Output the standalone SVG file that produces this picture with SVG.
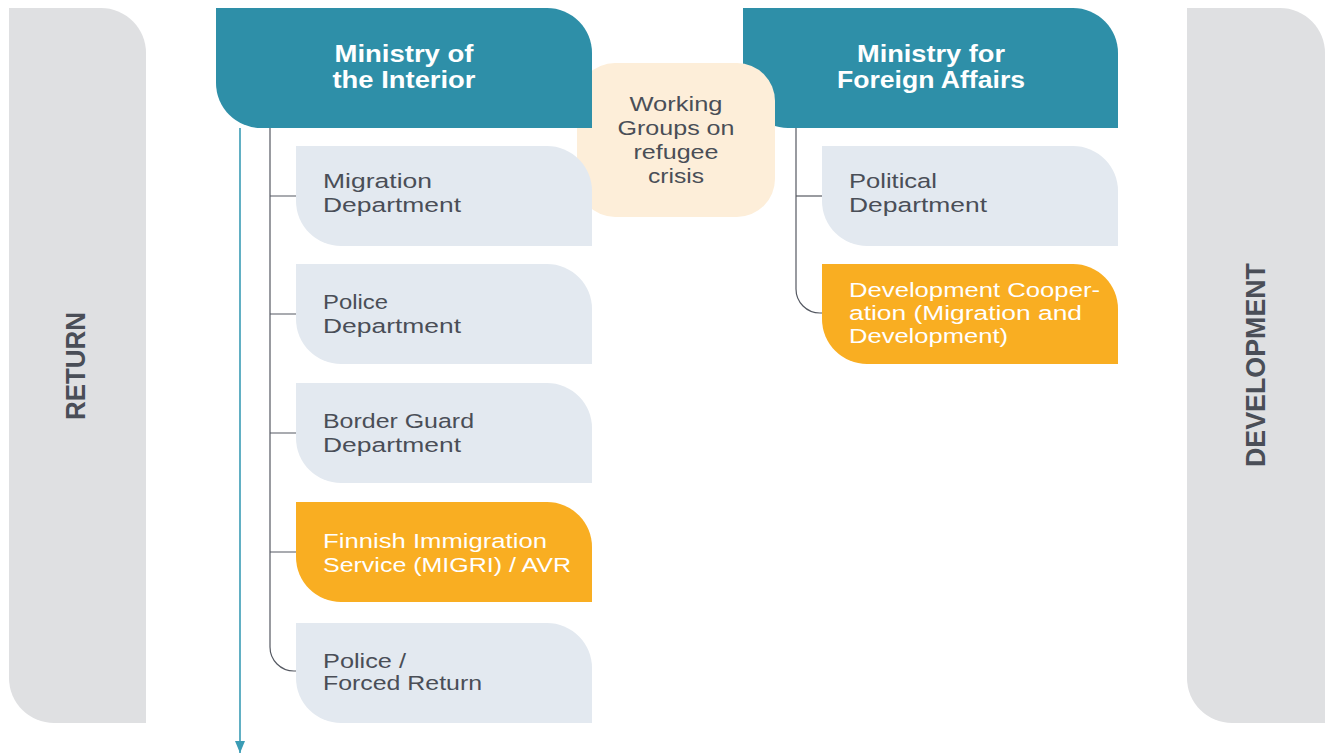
<svg xmlns="http://www.w3.org/2000/svg" width="1325" height="753" viewBox="0 0 1325 753">
<style>
  text { font-family: "Liberation Sans", Arial, sans-serif; }
  .panel { fill: #dfe0e2; }
  .ministry { fill: #2e8fa8; }
  .dept { fill: #e3e9f0; }
  .hl { fill: #f9ae22; }
  .wg { fill: #fdeed9; }
  .head { font-size: 23px; font-weight: 700; fill: #ffffff; text-anchor: middle; }
  .lbl { font-size: 20.5px; fill: #4a4e57; }
  .lblw { font-size: 20px; fill: #ffffff; }
  .side { font-size: 27px; font-weight: 700; fill: #4a4e57; text-anchor: middle; }
  .tree { fill: none; stroke: #555962; stroke-width: 1.2; }
  .flow { fill: none; stroke: #3a9cb5; stroke-width: 1.6; }
</style>
<defs>
  <marker id="arr" viewBox="0 0 12 10" refX="12" refY="5" markerWidth="12" markerHeight="10" markerUnits="userSpaceOnUse" orient="auto">
    <path d="M0,0 L12,5 L0,10 Z" fill="#3a9cb5"/>
  </marker>
</defs>

<g id="panel-return">
  <path class="panel" d="M9,8 H101 A45,45 0 0 1 146,53 V723 H54 A45,45 0 0 1 9,678 Z"/>
  <text class="side" transform="translate(85,366) rotate(-90)" textLength="108" lengthAdjust="spacingAndGlyphs">RETURN</text>
</g>
<g id="panel-development">
  <path class="panel" d="M1187,8 H1280 A45,45 0 0 1 1325,53 V723 H1232 A45,45 0 0 1 1187,678 Z"/>
  <text class="side" transform="translate(1265,365) rotate(-90)" textLength="204" lengthAdjust="spacingAndGlyphs">DEVELOPMENT</text>
</g>

<g id="connectors">
  <path class="flow" d="M240,128 V753" marker-end="url(#arr)"/>
  <path class="tree" d="M270,128 V647 A24,24 0 0 0 294,671 H297"/>
  <path class="tree" d="M270,196 H297 M270,314 H297 M270,433 H297 M270,552 H297"/>
  <path class="tree" d="M796,128 V289 A24,24 0 0 0 820,313 H823"/>
  <path class="tree" d="M796,196 H823"/>
</g>

<g id="ministry-foreign">
  <path class="ministry" d="M743,8 H1073 A45,45 0 0 1 1118,53 V128 H788 A45,45 0 0 1 743,83 Z"/>
  <text class="head"><tspan x="931" y="62" textLength="148" lengthAdjust="spacingAndGlyphs">Ministry for</tspan><tspan x="931" y="88" textLength="188" lengthAdjust="spacingAndGlyphs">Foreign Affairs</tspan></text>
</g>

<g id="working-groups">
  <rect class="wg" x="577" y="63" width="198" height="154" rx="38" ry="38"/>
  <text class="lbl" text-anchor="middle"><tspan x="676" y="111" textLength="93" lengthAdjust="spacingAndGlyphs">Working</tspan><tspan x="676" y="135" textLength="117" lengthAdjust="spacingAndGlyphs">Groups on</tspan><tspan x="676" y="159" textLength="85" lengthAdjust="spacingAndGlyphs">refugee</tspan><tspan x="676" y="183" textLength="56" lengthAdjust="spacingAndGlyphs">crisis</tspan></text>
</g>

<g id="ministry-interior">
  <path class="ministry" d="M216,8 H547 A45,45 0 0 1 592,53 V128 H261 A45,45 0 0 1 216,83 Z"/>
  <text class="head"><tspan x="404" y="62" textLength="139" lengthAdjust="spacingAndGlyphs">Ministry of</tspan><tspan x="404" y="88" textLength="143" lengthAdjust="spacingAndGlyphs">the Interior</tspan></text>
</g>

<g id="migration-department">
  <path class="dept" d="M296,146 H547 A45,45 0 0 1 592,191 V246 H341 A45,45 0 0 1 296,201 Z"/>
  <text class="lbl"><tspan x="323" y="188" textLength="109" lengthAdjust="spacingAndGlyphs">Migration</tspan><tspan x="323" y="212" textLength="138" lengthAdjust="spacingAndGlyphs">Department</tspan></text>
</g>
<g id="police-department">
  <path class="dept" d="M296,264 H547 A45,45 0 0 1 592,309 V364 H341 A45,45 0 0 1 296,319 Z"/>
  <text class="lbl"><tspan x="323" y="309" textLength="65" lengthAdjust="spacingAndGlyphs">Police</tspan><tspan x="323" y="333" textLength="138" lengthAdjust="spacingAndGlyphs">Department</tspan></text>
</g>
<g id="border-guard-department">
  <path class="dept" d="M296,383 H547 A45,45 0 0 1 592,428 V483 H341 A45,45 0 0 1 296,438 Z"/>
  <text class="lbl"><tspan x="323" y="428" textLength="151" lengthAdjust="spacingAndGlyphs">Border Guard</tspan><tspan x="323" y="452" textLength="138" lengthAdjust="spacingAndGlyphs">Department</tspan></text>
</g>
<g id="migri">
  <path class="hl" d="M296,502 H547 A45,45 0 0 1 592,547 V602 H341 A45,45 0 0 1 296,557 Z"/>
  <text class="lblw" style="font-size:20.5px"><tspan x="323" y="548" textLength="224" lengthAdjust="spacingAndGlyphs">Finnish Immigration</tspan><tspan x="323" y="572" textLength="248" lengthAdjust="spacingAndGlyphs">Service (MIGRI) / AVR</tspan></text>
</g>
<g id="police-forced-return">
  <path class="dept" d="M296,623 H547 A45,45 0 0 1 592,668 V723 H341 A45,45 0 0 1 296,678 Z"/>
  <text class="lbl" style="font-size:19.5px"><tspan x="323" y="668" textLength="83" lengthAdjust="spacingAndGlyphs">Police /</tspan><tspan x="323" y="690" textLength="159" lengthAdjust="spacingAndGlyphs">Forced Return</tspan></text>
</g>

<g id="political-department">
  <path class="dept" d="M822,146 H1073 A45,45 0 0 1 1118,191 V246 H867 A45,45 0 0 1 822,201 Z"/>
  <text class="lbl"><tspan x="849" y="188" textLength="88" lengthAdjust="spacingAndGlyphs">Political</tspan><tspan x="849" y="212" textLength="138" lengthAdjust="spacingAndGlyphs">Department</tspan></text>
</g>
<g id="development-cooperation">
  <path class="hl" d="M822,264 H1073 A45,45 0 0 1 1118,309 V364 H867 A45,45 0 0 1 822,319 Z"/>
  <text class="lblw"><tspan x="849" y="297" textLength="251" lengthAdjust="spacingAndGlyphs">Development Cooper-</tspan><tspan x="849" y="320" textLength="233" lengthAdjust="spacingAndGlyphs">ation (Migration and</tspan><tspan x="849" y="343" textLength="159" lengthAdjust="spacingAndGlyphs">Development)</tspan></text>
</g>
</svg>
